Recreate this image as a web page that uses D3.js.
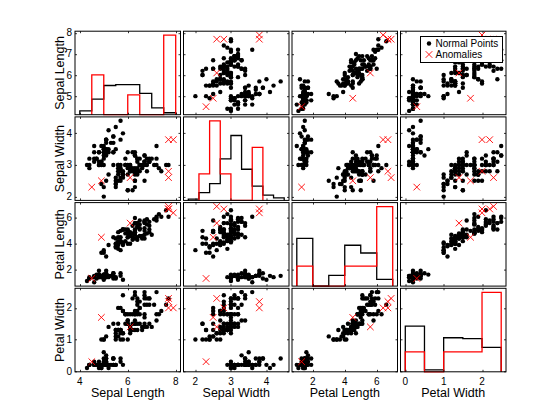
<!DOCTYPE html>
<html>
<head>
<meta charset="utf-8">
<script src="https://cdn.jsdelivr.net/npm/d3@7"></script>
<style>
  body { margin: 0; background: #fff; }
  text { font-family: "Liberation Sans", Arial, Helvetica, sans-serif; fill: #000; }
</style>
</head>
<body>
<div id="chart"></div>
<script>
// Fisher iris measurements (cm)
var sepalLength = [5.1,4.9,4.7,4.6,5.0,5.4,4.6,5.0,4.4,4.9,5.4,4.8,4.8,4.3,5.8,5.7,5.4,5.1,5.7,5.1,5.4,5.1,4.6,5.1,4.8,5.0,5.0,5.2,5.2,4.7,4.8,5.4,5.2,5.5,4.9,5.0,5.5,4.9,4.4,5.1,5.0,4.5,4.4,5.0,5.1,4.8,5.1,4.6,5.3,5.0,
  7.0,6.4,6.9,5.5,6.5,5.7,6.3,4.9,6.6,5.2,5.0,5.9,6.0,6.1,5.6,6.7,5.6,5.8,6.2,5.6,5.9,6.1,6.3,6.1,6.4,6.6,6.8,6.7,6.0,5.7,5.5,5.5,5.8,6.0,5.4,6.0,6.7,6.3,5.6,5.5,5.5,6.1,5.8,5.0,5.6,5.7,5.7,6.2,5.1,5.7,
  6.3,5.8,7.1,6.3,6.5,7.6,4.9,7.3,6.7,7.2,6.5,6.4,6.8,5.7,5.8,6.4,6.5,7.7,7.7,6.0,6.9,5.6,7.7,6.3,6.7,7.2,6.2,6.1,6.4,7.2,7.4,7.9,6.4,6.3,6.1,7.7,6.3,6.4,6.0,6.9,6.7,6.9,5.8,6.8,6.7,6.7,6.3,6.5,6.2,5.9];
var sepalWidth = [3.5,3.0,3.2,3.1,3.6,3.9,3.4,3.4,2.9,3.1,3.7,3.4,3.0,3.0,4.0,4.4,3.9,3.5,3.8,3.8,3.4,3.7,3.6,3.3,3.4,3.0,3.4,3.5,3.4,3.2,3.1,3.4,4.1,4.2,3.1,3.2,3.5,3.6,3.0,3.4,3.5,2.3,3.2,3.5,3.8,3.0,3.8,3.2,3.7,3.3,
  3.2,3.2,3.1,2.3,2.8,2.8,3.3,2.4,2.9,2.7,2.0,3.0,2.2,2.9,2.9,3.1,3.0,2.7,2.2,2.5,3.2,2.8,2.5,2.8,2.9,3.0,2.8,3.0,2.9,2.6,2.4,2.4,2.7,2.7,3.0,3.4,3.1,2.3,3.0,2.5,2.6,3.0,2.6,2.3,2.7,3.0,2.9,2.9,2.5,2.8,
  3.3,2.7,3.0,2.9,3.0,3.0,2.5,2.9,2.5,3.6,3.2,2.7,3.0,2.5,2.8,3.2,3.0,3.8,2.6,2.2,3.2,2.8,2.8,2.7,3.3,3.2,2.8,3.0,2.8,3.0,2.8,3.8,2.8,2.8,2.6,3.0,3.4,3.1,3.0,3.1,3.1,3.1,2.7,3.2,3.3,3.0,2.5,3.0,3.4,3.0];
var petalLength = [1.4,1.4,1.3,1.5,1.4,1.7,1.4,1.5,1.4,1.5,1.5,1.6,1.4,1.1,1.2,1.5,1.3,1.4,1.7,1.5,1.7,1.5,1.0,1.7,1.9,1.6,1.6,1.5,1.4,1.6,1.6,1.5,1.5,1.4,1.5,1.2,1.3,1.4,1.3,1.5,1.3,1.3,1.3,1.6,1.9,1.4,1.6,1.4,1.5,1.4,
  4.7,4.5,4.9,4.0,4.6,4.5,4.7,3.3,4.6,3.9,3.5,4.2,4.0,4.7,3.6,4.4,4.5,4.1,4.5,3.9,4.8,4.0,4.9,4.7,4.3,4.4,4.8,5.0,4.5,3.5,3.8,3.7,3.9,5.1,4.5,4.5,4.7,4.4,4.1,4.0,4.4,4.6,4.0,3.3,4.2,4.2,4.2,4.3,3.0,4.1,
  6.0,5.1,5.9,5.6,5.8,6.6,4.5,6.3,5.8,6.1,5.1,5.3,5.5,5.0,5.1,5.3,5.5,6.7,6.9,5.0,5.7,4.9,6.7,4.9,5.7,6.0,4.8,4.9,5.6,5.8,6.1,6.4,5.6,5.1,5.6,6.1,5.6,5.5,4.8,5.4,5.6,5.1,5.1,5.9,5.7,5.2,5.0,5.2,5.4,5.1];
var petalWidth = [0.2,0.2,0.2,0.2,0.2,0.4,0.3,0.2,0.2,0.1,0.2,0.2,0.1,0.1,0.2,0.4,0.4,0.3,0.3,0.3,0.2,0.4,0.2,0.5,0.2,0.2,0.4,0.2,0.2,0.2,0.2,0.4,0.1,0.2,0.2,0.2,0.2,0.1,0.2,0.2,0.3,0.3,0.2,0.6,0.4,0.3,0.2,0.2,0.2,0.2,
  1.4,1.5,1.5,1.3,1.5,1.3,1.6,1.0,1.3,1.4,1.0,1.5,1.0,1.4,1.3,1.4,1.5,1.0,1.5,1.1,1.8,1.3,1.5,1.2,1.3,1.4,1.4,1.7,1.5,1.0,1.1,1.0,1.2,1.6,1.5,1.6,1.5,1.3,1.3,1.3,1.2,1.4,1.2,1.0,1.3,1.2,1.3,1.3,1.1,1.3,
  2.5,1.9,2.1,1.8,2.2,2.1,1.7,1.8,1.8,2.5,2.0,1.9,2.1,2.0,2.4,2.3,1.8,2.2,2.3,1.5,2.3,2.0,2.0,1.8,2.1,1.8,1.8,1.8,2.1,1.6,1.9,2.0,2.2,1.5,1.4,2.3,2.4,1.8,1.8,2.1,2.4,2.3,1.9,2.3,2.5,2.3,1.9,2.0,2.3,1.8];

// rows flagged as anomalies (0-based)
var anomalyRows = [41,106,117,118,122,131,134];

var varNames = ["Sepal Length","Sepal Width","Petal Length","Petal Width"];

// histogram bin edges, normal points and anomalies
var normalEdges = [
  [4,4.5,5,5.5,6,6.5,7,7.5,8],
  [1.8,2.1,2.4,2.7,3.0,3.3,3.6,3.9,4.2,4.5],
  [1,2,3,4,5,6,7],
  [0,0.5,1,1.5,2,2.5]];
var anomalyEdges = [
  [4.5,5,5.5,6,6.5,7,7.5,8],
  [2.1,2.4,2.7,3.0,3.3,3.6,3.9],
  [1,2,3,4,5,6,7],
  [0,0.5,1,1.5,2,2.5]];

var xTickVals = [[4,6,8],[2,3,4],[2,4,6],[0,1,2]];
var yTickVals = [[5,6,7,8],[2,3,4],[2,4,6],[0,1,2]];

var cols = [sepalLength, sepalWidth, petalLength, petalWidth];
var isAnom = d3.range(sepalLength.length).map(i => anomalyRows.indexOf(i) >= 0);
var normalIdx = d3.range(sepalLength.length).filter(i => !isAnom[i]);
var anomIdx = d3.range(sepalLength.length).filter(i => isAnom[i]);

var W = 560, H = 420;
var left = 75, top0 = 31.2, slotW = 108.5, slotH = 85.7, pw = 105.5, ph = 83.5;

function pad(ext){ var r = ext[1]-ext[0]; return [ext[0]-0.05*r, ext[1]+0.05*r]; }

// columns follow the histogram edges, rows the data range
var xScales = cols.map((c,k) => {
  var e = normalEdges[k];
  return d3.scaleLinear().domain(pad([e[0], e[e.length-1]])).range([0,pw]);
});
var yScales = cols.map(c => d3.scaleLinear().domain(pad(d3.extent(c))).range([ph,0]));

function hist(vals, edges){
  var n = edges.length-1, counts = new Array(n).fill(0);
  vals.forEach(v=>{
    for (var b=0;b<n;b++){
      if (v>=edges[b] && (v<edges[b+1] || (b==n-1 && v<=edges[n]))) { counts[b]++; break; }
    }
  });
  return counts.map(c=>c/vals.length);
}

var svg = d3.select("#chart").append("svg").attr("width",W).attr("height",H);

for (var i=0;i<4;i++){
  for (var j=0;j<4;j++){
    var x = xScales[j], y = yScales[i];
    var g = svg.append("g")
      .attr("transform","translate("+(left+j*slotW)+","+(top0+i*slotH)+")");

    if (i==j){
      var hn = hist(normalIdx.map(k=>cols[j][k]), normalEdges[j]);
      var ha = hist(anomIdx.map(k=>cols[j][k]), anomalyEdges[j]);
      var hy = d3.scaleLinear().domain([0, d3.max(hn.concat(ha))]).nice().range([ph,0]);
      var stairs = function(h, edges){
        var pts = [[edges[0],0]];
        h.forEach((v,b)=>{ pts.push([edges[b],v]); pts.push([edges[b+1],v]); });
        pts.push([edges[edges.length-1],0]);
        return d3.line().x(p=>x(p[0])).y(p=>hy(p[1]))(pts);
      };
      g.append("path").attr("d",stairs(hn,normalEdges[j]))
        .attr("fill","none").attr("stroke","#000").attr("stroke-width",1.3);
      g.append("path").attr("d",stairs(ha,anomalyEdges[j]))
        .attr("fill","none").attr("stroke","#ff0000").attr("stroke-width",1.3);
    } else {
      g.append("g").selectAll("circle")
        .data(normalIdx).enter().append("circle")
        .attr("cx",k=>x(cols[j][k]))
        .attr("cy",k=>y(cols[i][k]))
        .attr("r",2.2).attr("fill","#000");
      g.append("g").selectAll("path")
        .data(anomIdx).enter().append("path")
        .attr("d",k=>{
          var cx=x(cols[j][k]), cy=y(cols[i][k]), s=3.3;
          return "M"+(cx-s)+","+(cy-s)+"L"+(cx+s)+","+(cy+s)+"M"+(cx-s)+","+(cy+s)+"L"+(cx+s)+","+(cy-s);
        })
        .attr("stroke","#ff0000").attr("stroke-width",0.9).attr("fill","none");
    }

    // inward ticks on all sides
    var tk = g.append("g").attr("stroke","#000").attr("stroke-width",0.8);
    xTickVals[j].forEach(t=>{
      var px = Math.round(x(t))+0.5;
      tk.append("line").attr("x1",px).attr("x2",px).attr("y1",ph).attr("y2",ph-2);
      tk.append("line").attr("x1",px).attr("x2",px).attr("y1",0).attr("y2",2);
    });
    yTickVals[i].forEach(t=>{
      var py = Math.round(y(t))+0.5;
      tk.append("line").attr("x1",0).attr("x2",2).attr("y1",py).attr("y2",py);
      tk.append("line").attr("x1",pw).attr("x2",pw-2).attr("y1",py).attr("y2",py);
    });

    g.append("rect").attr("x",0).attr("y",0).attr("width",pw).attr("height",ph)
      .attr("fill","none").attr("stroke","#000").attr("stroke-width",1);

    if (i==3){
      g.selectAll("text.xt").data(xTickVals[j]).enter().append("text")
        .attr("class","xt").attr("x",d=>x(d)).attr("y",ph+13)
        .attr("text-anchor","middle").style("font-size","10px").text(d=>d);
      g.append("text").attr("x",pw/2).attr("y",ph+25.5)
        .attr("text-anchor","middle").style("font-size","12.5px").text(varNames[j]);
    }
    if (j==0){
      g.selectAll("text.yt").data(yTickVals[i]).enter().append("text")
        .attr("class","yt").attr("x",-3).attr("y",d=>y(d)+3.5)
        .attr("text-anchor","end").style("font-size","10px").text(d=>d);
      g.append("text").attr("transform","translate(-11,"+(ph/2)+") rotate(-90)")
        .attr("text-anchor","middle").style("font-size","12.5px").text(varNames[i]);
    }
  }
}

// legend in top-right panel
var lg = svg.append("g").attr("transform","translate(420.5,36.5)");
lg.append("rect").attr("width",82).attr("height",26)
  .attr("fill","#fff").attr("stroke","#000").attr("stroke-width",1);
lg.append("circle").attr("cx",8.5).attr("cy",7).attr("r",2.2).attr("fill","#000");
lg.append("text").attr("x",15).attr("y",10.5).style("font-size","10px").text("Normal Points");
lg.append("path").attr("d","M5.2,14.7L11.8,21.3M5.2,21.3L11.8,14.7")
  .attr("stroke","#ff0000").attr("stroke-width",0.9);
lg.append("text").attr("x",15).attr("y",21.5).style("font-size","10px").text("Anomalies");
</script>
</body>
</html>
